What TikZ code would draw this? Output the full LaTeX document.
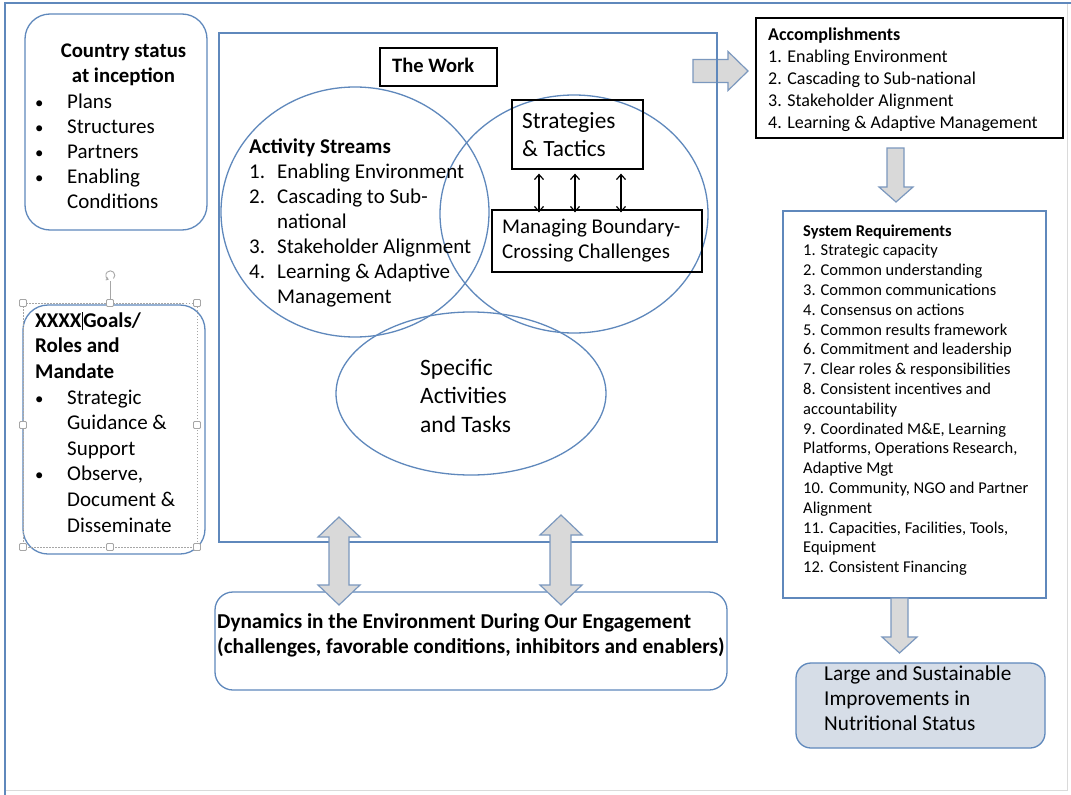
\documentclass[tikz,border=0pt]{standalone}
\usepackage{fontspec}
\setmainfont{Carlito}
\usetikzlibrary{arrows.meta}
\definecolor{bl}{HTML}{5F88BC}
\definecolor{arrfill}{HTML}{D9D9D9}
\definecolor{arrline}{HTML}{7B98BE}
\definecolor{lgfill}{HTML}{D6DDE7}
\definecolor{hnd}{HTML}{A6A6A6}
\definecolor{frgray}{HTML}{DADADA}
\newcommand\bul{\makebox[32pt][l]{\scalebox{0.8}{\textbullet}}}
\newcommand\ind{\hspace*{32pt}}
\newcommand\nm[1]{\makebox[28pt][l]{#1}}
\begin{document}
\begin{tikzpicture}[x=1pt,y=-1pt,
  bbox/.style={draw=bl,line width=1.3pt,inner sep=0pt},
  kbox/.style={draw=black,line width=1.3pt,inner sep=0pt},
  ell/.style={draw=bl,line width=1.3pt},
  blockarr/.style={draw=arrline,fill=arrfill,line width=1.2pt,line join=miter},
  txt/.style={inner sep=0pt,anchor=north west,align=left},
  body/.style={font=\fontsize{21}{25}\selectfont},
  handle/.style={draw=hnd,fill=white,line width=0.9pt,minimum size=7pt,inner sep=0pt,rounded corners=1pt},
]
\useasboundingbox (0,0) rectangle (1071,795);
\fill[white] (0,0) rectangle (1071,795);
% outer frame
\draw[frgray,line width=1pt] (1067,3) -- (1067,790) -- (5,790);
\draw[bl,line width=1.3pt] (5,795) -- (5,3) -- (1071,3);

% right block arrow (behind the frame)
\draw[blockarr] (693,59.5) -- (728,59.5) -- (728,51.5) -- (748,71) -- (728,90.5) -- (728,82.5) -- (693,82.5) -- cycle;

% The Work frame
\node[bbox,minimum width=498pt,minimum height=509pt] (work) at (468,287.5) {};
% ellipses
\draw[ell] (355,212) ellipse [x radius=134, y radius=125];
\draw[ell] (574,214) ellipse [x radius=134, y radius=119];
\draw[ell] (471,393.5) ellipse [x radius=135, y radius=81.5];

% boxes
\node[bbox,rounded corners=25pt,minimum width=182pt,minimum height=216pt] (country) at (116,122) {};
\node[bbox,rounded corners=25pt,minimum width=182pt,minimum height=249pt] (goals) at (114,429.5) {};
\node[kbox,line width=2.6pt,minimum width=117pt,minimum height=38pt] (workbox) at (438.5,67) {};
\node[kbox,minimum width=131pt,minimum height=69pt] (strat) at (577.5,134.5) {};
\node[kbox,minimum width=210pt,minimum height=62pt] (manag) at (597,241) {};
\node[kbox,line width=2.2pt,minimum width=307pt,minimum height=120pt] (accomp) at (909.5,78) {};
\node[bbox,minimum width=263pt,minimum height=387pt] (sysreq) at (914.5,404.5) {};
\node[bbox,fill=lgfill,rounded corners=15pt,minimum width=249pt,minimum height=85pt] (large) at (920.5,705.5) {};
\node[bbox,rounded corners=18pt,minimum width=512pt,minimum height=98pt] (dyn) at (471,641) {};

% small double arrows
\foreach \xx in {539,575,621}{
  \draw[line width=1.2pt,{Straight Barb[length=5pt,width=9pt]}-{Straight Barb[length=5pt,width=9pt]}]
    (strat.south -| \xx,0) ++(0,4) coordinate (a\xx) -- ([yshift=-3pt]manag.north -| \xx,0);
}

% down block arrows
\draw[blockarr] (887,148) -- (904,148) -- (904,187) -- (913,187) -- (896,202) -- (879,187) -- (887,187) -- cycle;
\draw[blockarr] (891,598) -- (908,598) -- (908,637) -- (917,637) -- (899.5,653) -- (882,637) -- (891,637) -- cycle;
% vertical double block arrows
\draw[blockarr] (339,517) -- (360,537) -- (349,537) -- (349,585) -- (360,585) -- (339,605) -- (318,585) -- (329,585) -- (329,537) -- (318,537) -- cycle;
\draw[blockarr] (561,515) -- (582,535) -- (571,535) -- (571,585) -- (582,585) -- (561,605) -- (540,585) -- (550,585) -- (550,535) -- (540,535) -- cycle;

% selection handles on goals box
\draw[hnd,line width=0.8pt,dash pattern=on 1.5pt off 1.5pt] (23,303) rectangle (197,547);
\draw[hnd,line width=0.9pt] (110,281) -- (110,303);
\draw[hnd,line width=0.9pt,-{Straight Barb[length=2pt,width=3pt]}] (113.5,278.5) arc[start angle=-45,end angle=250,radius=4.5pt];
\foreach \hx/\hy [count=\i] in {23/303,110/303,197/303,23/425,197/425,23/547,110/547,197/547}{
  \node[handle] (h\i) at (\hx,\hy) {};
}

% texts
\node[txt,anchor=north,align=center,font=\fontsize{20.8}{25}\selectfont\bfseries] (ctitle) at (123.5,39.5) {\strut Country status\\at inception};
\node[txt,body] (clist) at (35,90.5) {\strut\bul Plans\\\bul Structures\\\bul Partners\\\bul Enabling\\\ind Conditions};
\node[txt,font=\fontsize{21}{25.6}\selectfont] (glist) at (35,309.1) {\strut\textbf{XXXX\kern0.5pt\rule[-3pt]{0.9pt}{18pt}\kern0.5pt Goals/}\\\textbf{Roles and}\\\textbf{Mandate}\\\bul Strategic\\\ind Guidance \&\\\ind Support\\\bul Observe,\\\ind Document \&\\\ind Disseminate};
\node[inner sep=0pt,anchor=base west,font=\fontsize{20.5}{25}\selectfont\bfseries] (worktxt) at (392,72) {The Work};
\node[txt,body] (act) at (249,135.5) {\strut\textbf{Activity Streams}\\\nm{1.}Enabling Environment\\\nm{2.}Cascading to Sub-\\\nm{}national\\\nm{3.}Stakeholder Alignment\\\nm{4.}Learning \& Adaptive\\\nm{}Management};
\node[txt,font=\fontsize{23.3}{28.5}\selectfont] (strattxt) at (522,108) {\strut Strategies\\\& Tactics};
\node[txt,font=\fontsize{21}{25}\selectfont] (managtxt) at (502,215.5) {\strut Managing Boundary-\\Crossing Challenges};
\node[txt,font=\fontsize{23.5}{28.5}\selectfont] (spec) at (420,355) {\strut Specific\\Activities\\and Tasks};
\node[txt,font=\fontsize{18}{22}\selectfont] (acctxt) at (768,24.6) {\strut\textbf{Accomplishments}\\1. Enabling Environment\\2. Cascading to Sub-national\\3. Stakeholder Alignment\\4. Learning \& Adaptive Management};
\node[txt,font=\fontsize{16.5}{19.8}\selectfont] (systxt) at (803,222.1) {\strut\textbf{System Requirements}\\1. Strategic capacity\\2. Common understanding\\3. Common communications\\4. Consensus on actions\\5. Common results framework\\6. Commitment and leadership\\7. Clear roles \& responsibilities\\8. Consistent incentives and\\accountability\\9. Coordinated M\&E, Learning\\Platforms, Operations Research,\\Adaptive Mgt\\10. Community, NGO and Partner\\Alignment\\11. Capacities, Facilities, Tools,\\Equipment\\12. Consistent Financing};
\node[txt,font=\fontsize{21.2}{25}\selectfont] (largetxt) at (824,662.5) {\strut Large and Sustainable\\Improvements in\\Nutritional Status};
\node[txt,font=\fontsize{21.2}{25.6}\selectfont\bfseries] (dyntxt) at (217,610.1) {\strut Dynamics in the Environment During Our Engagement\\(challenges, favorable conditions, inhibitors and enablers)};
\end{tikzpicture}
\end{document}
